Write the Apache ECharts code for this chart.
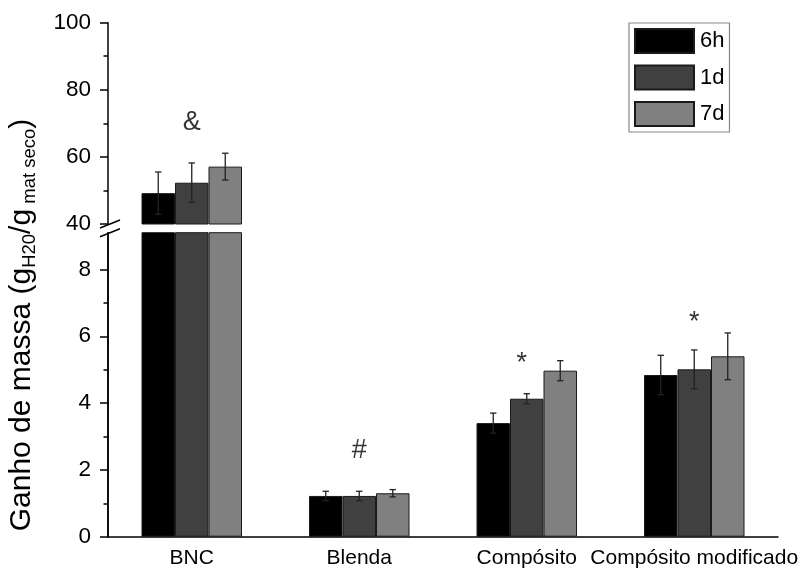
<!DOCTYPE html>
<html>
<head>
<meta charset="utf-8">
<script src="https://cdn.jsdelivr.net/npm/echarts@6/dist/echarts.min.js"></script>
<style>
  html, body { margin: 0; padding: 0; background: #fff; }
  #chart { width: 806px; height: 576px; }
</style>
</head>
<body>
<div id="chart"></div>
<script>
// Mass gain per material at three immersion times (mean ± SD)
const categories = ['BNC', 'Blenda', 'Compósito', 'Compósito modificado'];
const seriesNames = ['6h', '1d', '7d'];
const values6h = [49.2, 1.22, 3.40, 4.84];
const values1d = [52.3, 1.22, 4.13, 5.01];
const values7d = [57.1, 1.30, 4.97, 5.40];
const err6h = [6.3, 0.14, 0.30, 0.59];
const err1d = [5.9, 0.14, 0.15, 0.58];
const err7d = [4.0, 0.11, 0.30, 0.70];
// significance markers above each group
const markerText = ['&', '#', '*', '*'];
const markerY = [70.2, 2.58, 5.19, 6.42];
// split value axis: lower 0–9.1, upper 40–100
const lowerTicks = [0, 2, 4, 6, 8];
const lowerMinorTicks = [1, 3, 5, 7];
const upperMin = 40, upperMax = 100, lowerMax = 9.1;

const colors = ['#000000', '#404040', '#808080'];
const allValues = [values6h, values1d, values7d];
const allErrors = [err6h, err1d, err7d];
const FONT = 'Liberation Sans, Arial, sans-serif';

const chart = echarts.init(document.getElementById('chart'), null, { renderer: 'canvas' });

const gridLeft = 108, gridRight = 28;
const lowerGrid = { left: gridLeft, right: gridRight, top: 232.7, bottom: 39.3 };
const grids = [
  { left: gridLeft, right: gridRight, top: 22.7, bottom: 352 },
  lowerGrid,
  Object.assign({}, lowerGrid) // carries the minor ticks of the lower segment
];

const axisLineStyle = { color: '#000', width: 1.5 };
const tickLine = { color: '#000', width: 1.5 };

const xAxes = [
  { type: 'category', gridIndex: 0, data: categories, show: false },
  {
    type: 'category', gridIndex: 1, data: categories,
    axisLine: { lineStyle: axisLineStyle },
    axisTick: { alignWithLabel: true, length: 9, lineStyle: tickLine },
    axisLabel: { color: '#000', fontFamily: FONT, fontSize: 21, margin: 11, interval: 0, hideOverlap: false }
  },
  { type: 'category', gridIndex: 2, data: categories, show: false }
];

const yAxes = [
  {
    type: 'value', gridIndex: 0, min: upperMin, max: upperMax, interval: 20,
    axisLine: { show: true, lineStyle: axisLineStyle },
    axisTick: { show: true, length: 8, lineStyle: tickLine },
    minorTick: { show: true, splitNumber: 2, length: 4.5, lineStyle: tickLine },
    splitLine: { show: false },
    axisLabel: { color: '#000', fontFamily: FONT, fontSize: 22.5, margin: 17 }
  },
  {
    type: 'value', gridIndex: 1, min: 0, max: lowerMax, position: 'left',
    axisLine: { show: true, lineStyle: axisLineStyle },
    axisTick: { show: true, length: 8, customValues: lowerTicks, lineStyle: tickLine },
    splitLine: { show: false },
    axisLabel: { color: '#000', fontFamily: FONT, fontSize: 22.5, margin: 17, customValues: lowerTicks }
  },
  {
    type: 'value', gridIndex: 2, min: 0, max: lowerMax, position: 'left',
    axisLine: { show: true, lineStyle: axisLineStyle },
    axisTick: { show: true, length: 4.5, customValues: lowerMinorTicks, lineStyle: tickLine },
    splitLine: { show: false },
    axisLabel: { show: false }
  }
];

const series = [];
// bars in both panels; the lower panel clips the tall BNC bars at its top edge
seriesNames.forEach((name, k) => {
  const itemStyle = { color: colors[k], borderColor: '#1a1a1a', borderWidth: 1 };
  series.push({
    name, type: 'bar', xAxisIndex: 0, yAxisIndex: 0, barWidth: '20%', barGap: '0%',
    itemStyle, clip: true,
    data: allValues[k].map((v) => (v >= upperMin ? v : '-'))
  });
  series.push({
    name, type: 'bar', xAxisIndex: 1, yAxisIndex: 1, barWidth: '20%', barGap: '0%',
    itemStyle, clip: true,
    data: allValues[k].slice()
  });
});

function errorData(upper) {
  const out = [];
  allValues.forEach((vals, k) => {
    vals.forEach((v, i) => {
      if ((v >= upperMin) === upper) out.push([i, k, v, allErrors[k][i]]);
    });
  });
  return out;
}

function renderError(params, api) {
  const cat = api.value(0), k = api.value(1), v = api.value(2), e = api.value(3);
  const band = api.size([1, 0])[0];
  const bw = band * 0.2;
  const x = api.coord([cat, v])[0] + (k - 1) * bw;
  const yT = api.coord([cat, v + e])[1];
  const yB = api.coord([cat, v - e])[1];
  const cap = 3.2;
  const style = { stroke: '#222', lineWidth: 1.3 };
  return {
    type: 'group',
    children: [
      { type: 'line', shape: { x1: x, y1: yT, x2: x, y2: yB }, style },
      { type: 'line', shape: { x1: x - cap, y1: yT, x2: x + cap, y2: yT }, style },
      { type: 'line', shape: { x1: x - cap, y1: yB, x2: x + cap, y2: yB }, style }
    ]
  };
}

series.push({
  type: 'custom', xAxisIndex: 0, yAxisIndex: 0, z: 5, silent: true,
  renderItem: renderError, encode: { x: 0, y: 2 }, data: errorData(true)
});
series.push({
  type: 'custom', xAxisIndex: 1, yAxisIndex: 1, z: 5, silent: true,
  renderItem: renderError, encode: { x: 0, y: 2 }, data: errorData(false)
});

// significance markers
function markerSeries(upper) {
  const data = [];
  markerY.forEach((y, i) => {
    if ((y >= upperMin) === upper) {
      const item = { value: [categories[i], y], label: { formatter: markerText[i] } };
      if (i === 2) item.label.offset = [-5, 0];
      data.push(item);
    }
  });
  return {
    type: 'scatter', xAxisIndex: upper ? 0 : 1, yAxisIndex: upper ? 0 : 1,
    symbolSize: 0, silent: true, z: 6,
    label: { show: true, position: 'inside', color: '#000', fontFamily: FONT, fontSize: 27 },
    data
  };
}
series.push(markerSeries(true));
series.push(markerSeries(false));

chart.setOption({
  animation: false,
  backgroundColor: '#fff',
  grid: grids,
  xAxis: xAxes,
  yAxis: yAxes,
  legend: {
    data: seriesNames,
    orient: 'vertical',
    left: 629, top: 23,
    itemWidth: 59, itemHeight: 24, itemGap: 10.5,
    padding: [5, 5, 5, 5],
    borderColor: '#888', borderWidth: 1.2,
    icon: 'rect',
    textStyle: { color: '#000', fontFamily: FONT, fontSize: 22, padding: [0, 0, 0, 1] },
    selectedMode: false
  },
  series
});

// axis break marks and rotated axis title
const yUpperBottom = chart.convertToPixel({ yAxisIndex: 0 }, upperMin);
const yLowerTop = chart.convertToPixel({ yAxisIndex: 1 }, lowerMax);
const axX = gridLeft;
const slash = (cy) => ({
  type: 'line',
  shape: { x1: axX - 8, y1: cy + 4, x2: axX + 12, y2: cy - 4 },
  style: { stroke: '#000', lineWidth: 1.5 }
});

chart.setOption({
  graphic: [
    { type: 'rect', shape: { x: axX - 3, y: yUpperBottom + 1, width: 6, height: yLowerTop - yUpperBottom - 2 }, style: { fill: '#fff' }, z: 100 },
    Object.assign(slash(yUpperBottom), { z: 101 }),
    Object.assign(slash(yLowerTop), { z: 101 }),
    {
      type: 'text',
      x: 22, y: 325,
      rotation: Math.PI / 2,
      z: 101,
      style: {
        text: 'Ganho de massa (g{sub|H20}/g{sub| mat seco})',
        fontFamily: FONT, fontSize: 30, fill: '#000',
        align: 'center', verticalAlign: 'middle',
        rich: {
          sub: { fontFamily: FONT, fontSize: 18.5, fill: '#000', padding: [15, 0, 0, 0] }
        }
      }
    }
  ]
});
</script>
</body>
</html>
